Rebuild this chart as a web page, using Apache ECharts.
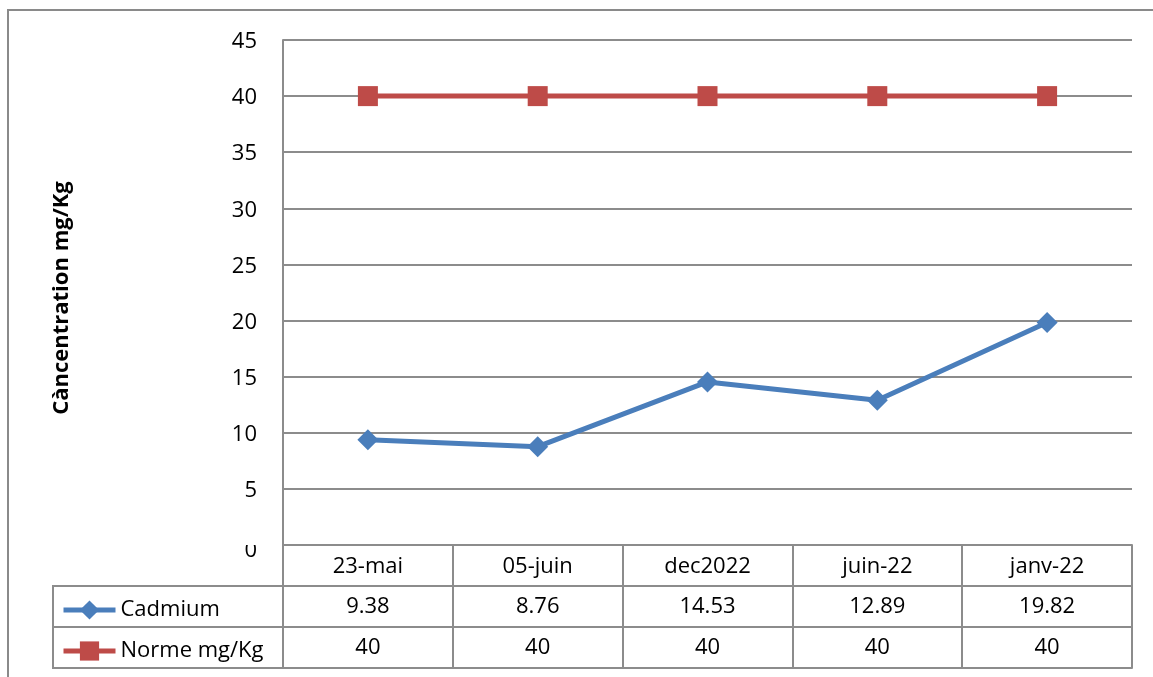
<!DOCTYPE html>
<html>
<head>
<meta charset="utf-8">
<script src="https://cdn.jsdelivr.net/npm/echarts@6/dist/echarts.min.js"></script>
<style>
  html, body { margin: 0; padding: 0; background: #ffffff; }
  #chart { width: 1153px; height: 677px; }
</style>
</head>
<body>
<div id="chart"></div>
<script>
// Sampling dates (header row of the data table)
const categories = ['23-mai', '05-juin', 'dec2022', 'juin-22', 'janv-22'];
// Measured cadmium concentration (mg/Kg)
const cadmium = [9.38, 8.76, 14.53, 12.89, 19.82];
// Regulatory limit (mg/Kg)
const norme = [40, 40, 40, 40, 40];
// Y axis range
const yMin = 0, yMax = 45, yStep = 5;

const FONT = 'Open Sans';
const GRID_COLOR = '#8c8c8c';
const BLUE = '#4a7ebb';
const RED = '#be4b48';

const chart = echarts.init(document.getElementById('chart'), null, { renderer: 'canvas' });

const gridLeft = 283, gridTop = 40, gridRight = 21, gridBottom = 132;
const rowH = 41;

function tableAxis(data, offset, showLabel) {
  return {
    type: 'category',
    data: data,
    position: 'bottom',
    offset: offset,
    boundaryGap: true,
    axisLine: { show: true, lineStyle: { color: GRID_COLOR, width: 2 } },
    axisTick: { show: false },
    axisLabel: {
      show: showLabel,
      interval: 0,
      margin: 21,
      verticalAlign: 'middle',
      color: '#000',
      fontFamily: FONT,
      fontSize: 22
    },
    splitLine: { show: false }
  };
}

const option = {
  backgroundColor: '#ffffff',
  animation: false,
  textStyle: { fontFamily: FONT },
  grid: { left: gridLeft, top: gridTop, right: gridRight, bottom: gridBottom, containLabel: false },
  legend: {
    orient: 'vertical',
    left: 56,
    top: 593,
    itemWidth: 52,
    itemHeight: 24,
    itemGap: 17,
    itemTextGap: 7,
    lineStyle: { width: 5 },
    textStyle: { fontFamily: FONT, fontSize: 22, color: '#000', lineHeight: 24 },
    data: ['Cadmium', 'Norme mg/Kg']
  },
  xAxis: [
    {
      type: 'category',
      data: categories,
      position: 'bottom',
      boundaryGap: true,
      axisLine: { show: true, lineStyle: { color: GRID_COLOR, width: 2 } },
      axisTick: {
        show: true,
        interval: 0,
        alignWithLabel: false,
        length: rowH * 3,
        lineStyle: { color: GRID_COLOR, width: 2 }
      },
      axisLabel: {
        interval: 0,
        margin: 22,
        verticalAlign: 'middle',
        color: '#000',
        fontFamily: FONT,
        fontSize: 22
      },
      splitLine: { show: false }
    },
    tableAxis(cadmium.map(String), rowH, true),
    tableAxis(norme.map(String), rowH * 2, true),
    tableAxis(categories, rowH * 3, false)
  ],
  yAxis: {
    type: 'value',
    min: yMin,
    max: yMax,
    interval: yStep,
    name: 'Càncentration mg/Kg',
    nameLocation: 'middle',
    nameRotate: 90,
    nameGap: 210,
    nameTextStyle: { fontFamily: FONT, fontSize: 22, fontWeight: 'bold', color: '#000', padding: [0, 11, 0, 0] },
    axisLine: { show: true, lineStyle: { color: GRID_COLOR, width: 2 } },
    axisTick: { show: false },
    axisLabel: {
      margin: 26,
      color: '#000',
      fontFamily: FONT,
      fontSize: 22,
      padding: [4, 0, 0, 0],
      formatter: function (v) { return v === 0 ? '{z|0}' : String(v); },
      rich: { z: { fontFamily: FONT, fontSize: 22, color: '#000', padding: [8, 0, 0, 0] } }
    },
    splitLine: { show: true, lineStyle: { color: GRID_COLOR, width: 2 } }
  },
  series: [
    {
      name: 'Cadmium',
      type: 'line',
      data: cadmium,
      symbol: 'diamond',
      symbolSize: 21,
      lineStyle: { color: BLUE, width: 5 },
      itemStyle: { color: BLUE },
      z: 3
    },
    {
      name: 'Norme mg/Kg',
      type: 'line',
      data: norme,
      symbol: 'rect',
      symbolSize: 20,
      lineStyle: { color: RED, width: 5 },
      itemStyle: { color: RED },
      z: 3
    }
  ],
  graphic: [
    // outer chart frame
    {
      type: 'rect',
      shape: { x: 8, y: 10, width: 1200, height: 720 },
      style: { fill: 'none', stroke: '#8a8a8a', lineWidth: 2 },
      silent: true, z: -10
    },
    // legend column of the data table
    {
      type: 'rect',
      shape: { x: 53, y: 586, width: 230, height: 82 },
      style: { fill: 'none', stroke: GRID_COLOR, lineWidth: 2 },
      silent: true, z: 1
    },
    {
      type: 'line',
      shape: { x1: 53, y1: 627, x2: 283, y2: 627 },
      style: { stroke: GRID_COLOR, lineWidth: 2 },
      silent: true, z: 1
    },
    // table header overlaps the upper part of the zero label
    {
      type: 'rect',
      shape: { x: 225, y: 528, width: 56, height: 17 },
      style: { fill: '#ffffff' },
      silent: true, z: 100
    }
  ]
};

chart.setOption(option);
</script>
</body>
</html>
